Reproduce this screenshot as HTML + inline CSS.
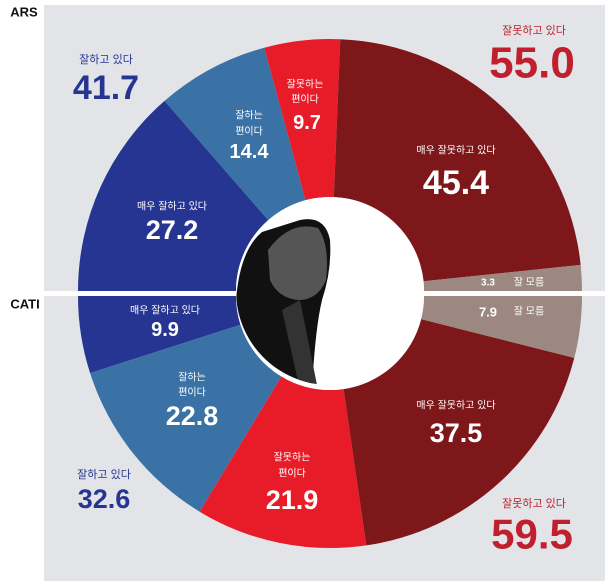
<!DOCTYPE html>
<html><head><meta charset="utf-8"><style>
html,body{margin:0;padding:0;background:#fff;}
body{width:611px;height:585px;position:relative;overflow:hidden;font-family:"Liberation Sans","Noto Sans CJK KR",sans-serif;}
svg{position:absolute;left:0;top:0;}
text{font-family:"Liberation Sans","Noto Sans CJK KR",sans-serif;text-anchor:middle;dominant-baseline:central;}
.s{font-size:10px;fill:#fff;}
.b{font-weight:bold;fill:#fff;}
</style></head><body>
<svg id="c" width="611" height="585" viewBox="0 0 611 585">
<rect x="44" y="5" width="561" height="576" fill="#e3e4e8"/>
<g id="slices"></g>
<rect x="44" y="291" width="561" height="5" fill="#fff"/>
<defs><clipPath id="hole"><circle cx="330" cy="291" r="94"/></clipPath></defs>
<circle cx="330" cy="291" r="94" fill="#fff"/>
<circle cx="330" cy="296" r="94" fill="#fff"/>
<g clip-path="url(#hole)">
<path d="M236,300 Q240,250 262,232 L300,220 Q325,215 330,240 Q332,270 322,300 Q315,330 312,390 L236,390 Z" fill="#111"/>
<path d="M268,250 Q290,220 318,228 Q330,245 326,280 Q318,300 298,300 Q278,298 270,280 Z" fill="#555"/>
<path d="M282,310 L300,300 L318,390 L300,390 Z" fill="#333"/>
</g>
<text x="24" y="12" style="font-size:13px;font-weight:bold;fill:#111">ARS</text>
<text x="25" y="304" style="font-size:13px;font-weight:bold;fill:#111">CATI</text>
<g style="fill:#263591">
<text x="106" y="60" style="font-size:11px;fill:#263591">잘하고 있다</text>
<text x="106" y="88" style="font-size:34px;font-weight:bold;fill:#263591">41.7</text>
<text x="104" y="475" style="font-size:11px;fill:#263591">잘하고 있다</text>
<text x="104" y="499" style="font-size:27px;font-weight:bold;fill:#263591">32.6</text>
</g>
<text x="534" y="31" style="font-size:11px;fill:#c0202e">잘못하고 있다</text>
<text x="532" y="63" style="font-size:44px;font-weight:bold;fill:#c0202e">55.0</text>
<text x="534" y="504" style="font-size:11px;fill:#c0202e">잘못하고 있다</text>
<text x="532" y="534" style="font-size:42px;font-weight:bold;fill:#c0202e">59.5</text>

<text class="s" x="249" y="116">잘하는</text>
<text class="s" x="249" y="132">편이다</text>
<text class="b" x="249" y="152" style="font-size:20px">14.4</text>
<text class="s" x="305" y="85">잘못하는</text>
<text class="s" x="305" y="100">편이다</text>
<text class="b" x="307" y="123" style="font-size:20px">9.7</text>
<text class="s" x="456" y="151">매우 잘못하고 있다</text>
<text class="b" x="456" y="183" style="font-size:34px">45.4</text>
<text class="s" x="172" y="207">매우 잘하고 있다</text>
<text class="b" x="172" y="230" style="font-size:27px">27.2</text>
<text class="b" x="488" y="283" style="font-size:10px">3.3</text>
<text class="s" x="529" y="283">잘 모름</text>
<text class="b" x="488" y="312" style="font-size:13px">7.9</text>
<text class="s" x="529" y="312">잘 모름</text>
<text class="s" x="165" y="311">매우 잘하고 있다</text>
<text class="b" x="165" y="330" style="font-size:20px">9.9</text>
<text class="s" x="192" y="378">잘하는</text>
<text class="s" x="192" y="393">편이다</text>
<text class="b" x="192" y="416" style="font-size:27px">22.8</text>
<text class="s" x="456" y="406">매우 잘못하고 있다</text>
<text class="b" x="456" y="433" style="font-size:27px">37.5</text>
<text class="s" x="292" y="458">잘못하는</text>
<text class="s" x="292" y="474">편이다</text>
<text class="b" x="292" y="500" style="font-size:27px">21.9</text>
</svg>
<script>
(function(){
var g=document.getElementById('slices');
var cx=330,R=252,r=94;
var cols=['#263591','#3a72a6','#e81c28','#7d1719','#9c8880'];
function draw(cy,vals,dir){
 var a=0;
 for(var i=0;i<vals.length;i++){
  var a0=a*Math.PI/180;a+=vals[i]*1.8;var a1=a*Math.PI/180;
  function p(rr,t){return (cx-rr*Math.cos(t)).toFixed(2)+','+(cy-dir*rr*Math.sin(t)).toFixed(2);}
  var sw=dir>0?1:0;
  var d='M'+p(r,a0)+' L'+p(R,a0)+' A'+R+','+R+' 0 0 '+sw+' '+p(R,a1)+' L'+p(r,a1)+' A'+r+','+r+' 0 0 '+(1-sw)+' '+p(r,a0)+'Z';
  var e=document.createElementNS('http://www.w3.org/2000/svg','path');
  e.setAttribute('d',d);e.setAttribute('fill',cols[i]);g.appendChild(e);
 }
}
draw(291,[27.2,14.4,9.7,45.4,3.3],1);
draw(296,[9.9,22.8,21.9,37.5,7.9],-1);
})();
</script>
</body></html>
